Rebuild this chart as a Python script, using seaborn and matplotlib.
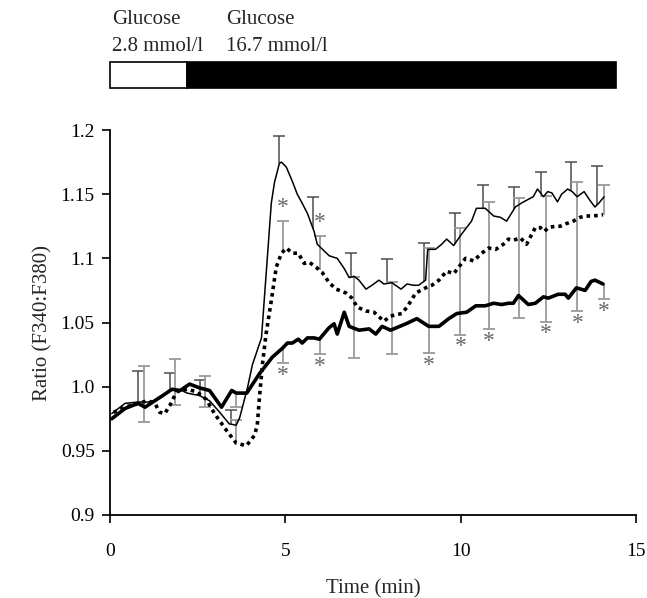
import matplotlib
matplotlib.use("Agg")
import matplotlib.pyplot as plt
import matplotlib.transforms as mtransforms
from matplotlib.patches import Rectangle
import numpy as np
import seaborn as sns

# thin solid line
thin_t = [0.05, 0.43, 0.80, 1.08, 1.28, 1.56, 1.80, 2.05, 2.20, 2.56, 2.84, 3.13,
          3.40, 3.60, 3.70, 3.92, 4.06, 4.32, 4.60, 4.69, 4.83, 4.89, 5.03, 5.20,
          5.34, 5.48, 5.63, 5.82, 5.91, 6.25, 6.48, 6.68, 6.82, 6.96, 7.10, 7.30,
          7.47, 7.67, 7.81, 8.04, 8.30, 8.47, 8.66, 8.80, 9.00, 9.06, 9.28, 9.46,
          9.60, 9.80, 10.03, 10.31, 10.45, 10.70, 10.94, 11.13, 11.31, 11.56, 11.73,
          11.93, 12.07, 12.19, 12.36, 12.48, 12.60, 12.76, 12.88, 13.05, 13.18,
          13.32, 13.52, 13.69, 13.83, 13.94, 14.09]
thin_y = [0.979, 0.987, 0.988, 0.988, 0.989, 0.994, 0.998, 0.997, 0.995, 0.993, 0.989, 0.980,
          0.971, 0.970, 0.976, 0.999, 1.017, 1.038, 1.143, 1.159, 1.174, 1.175, 1.171, 1.160,
          1.150, 1.143, 1.135, 1.121, 1.111, 1.102, 1.100, 1.092, 1.085, 1.086, 1.083, 1.076,
          1.079, 1.083, 1.080, 1.081, 1.076, 1.080, 1.079, 1.079, 1.083, 1.107, 1.107, 1.111,
          1.115, 1.110, 1.119, 1.129, 1.139, 1.139, 1.133, 1.132, 1.129, 1.140, 1.143,
          1.146, 1.148, 1.154, 1.148, 1.152, 1.151, 1.144, 1.150, 1.154, 1.152,
          1.148, 1.152, 1.145, 1.140, 1.143, 1.148]

# thick solid line
thick_t = [0.05, 0.43, 0.80, 1.00, 1.22, 1.50, 1.77, 2.00, 2.27, 2.56, 2.84, 3.18,
           3.47, 3.60, 3.90, 4.26, 4.63, 4.92, 5.06, 5.20, 5.37, 5.48, 5.63, 5.82,
           5.97, 6.25, 6.39, 6.48, 6.68, 6.82, 7.10, 7.39, 7.58, 7.76, 8.00, 8.44,
           8.75, 9.09, 9.38, 9.66, 9.89, 10.17, 10.43, 10.70, 10.94, 11.17, 11.36,
           11.50, 11.65, 11.93, 12.13, 12.36, 12.50, 12.78, 12.98, 13.07, 13.30,
           13.55, 13.72, 13.83, 14.06]
thick_y = [0.975, 0.983, 0.987, 0.984, 0.988, 0.993, 0.998, 0.997, 1.002, 0.999, 0.997, 0.984,
           0.997, 0.995, 0.995, 1.010, 1.023, 1.030, 1.034, 1.034, 1.037, 1.034, 1.038, 1.038,
           1.037, 1.046, 1.049, 1.041, 1.058, 1.047, 1.044, 1.045, 1.041, 1.047, 1.044, 1.049,
           1.053, 1.047, 1.047, 1.053, 1.057, 1.058, 1.063, 1.063, 1.065, 1.064, 1.065,
           1.065, 1.071, 1.064, 1.065, 1.070, 1.069, 1.072, 1.072, 1.069, 1.077,
           1.075, 1.082, 1.083, 1.080]

# dotted line
dot_t = [0.10, 0.43, 0.80, 1.08, 1.28, 1.42, 1.56, 1.70, 1.90, 2.20, 2.47, 2.75,
         2.98, 3.32, 3.60, 3.89, 4.12, 4.20, 4.26, 4.35, 4.45, 4.60, 4.74, 4.89,
         5.03, 5.20, 5.37, 5.54, 5.68, 5.88, 6.05, 6.25, 6.45, 6.73, 6.90, 7.05,
         7.30, 7.53, 7.81, 8.00, 8.32, 8.47, 8.72, 9.00, 9.18, 9.38, 9.60, 9.80,
         9.94, 10.14, 10.37, 10.60, 10.80, 11.00, 11.22, 11.36, 11.50, 11.70, 11.88,
         12.13, 12.27, 12.39, 12.50, 12.70, 12.84, 13.01, 13.21, 13.41, 13.58,
         13.78, 14.06]
dot_y = [0.980, 0.984, 0.987, 0.989, 0.987, 0.980, 0.979, 0.985, 0.996, 0.998, 0.996, 0.990,
         0.979, 0.966, 0.956, 0.954, 0.962, 0.970, 0.991, 1.018, 1.041, 1.067, 1.093, 1.104,
         1.108, 1.104, 1.104, 1.096, 1.097, 1.093, 1.089, 1.081, 1.076, 1.073, 1.069, 1.062,
         1.059, 1.058, 1.051, 1.055, 1.057, 1.062, 1.073, 1.077, 1.079, 1.083, 1.090, 1.088,
         1.093, 1.100, 1.098, 1.104, 1.108, 1.107, 1.111, 1.115, 1.114, 1.116, 1.111,
         1.124, 1.124, 1.121, 1.124, 1.125, 1.125, 1.127, 1.129, 1.132, 1.133,
         1.133, 1.134]

# error bars of the thin line (upwards)
thin_bar_t = [0.80, 1.70, 2.56, 3.44, 4.83, 5.80, 6.87, 7.90, 8.95, 9.83, 10.65,
              11.53, 12.29, 13.16, 13.89]
thin_bar_err = [0.024, 0.014, 0.012, 0.011, 0.021, 0.025, 0.019, 0.019, 0.030, 0.024,
                0.018, 0.017, 0.017, 0.023, 0.030]

# error bars of the dotted (upwards) and thick (downwards) lines
pair_bar_t = [0.97, 1.85, 2.70, 3.60, 4.93, 5.98, 6.96, 8.05, 9.09, 9.99, 10.80,
              11.67, 12.42, 13.33, 14.09]
dot_bar_err = [0.028, 0.028, 0.017, 0.018, 0.024, 0.027, 0.019, 0.026, 0.030, 0.029,
               0.036, 0.031, 0.027, 0.029, 0.023]
thick_bar_err = [0.012, 0.012, 0.014, 0.011, 0.012, 0.012, 0.023, 0.019, 0.021, 0.017,
                 0.019, 0.017, 0.019, 0.018, 0.012]
pair_joined = [True, True, True, False, False, False, True, True, True, True, True,
               True, True, True, False]
star_up = [False, False, False, False, True, True, False, False, False, False, False,
           False, False, False, False]
star_down = [False, False, False, False, True, True, False, False, True, True, True,
             False, True, True, True]

low_end = 2.2
high_end = 14.43

sns.set_style("ticks")
plt.rcParams["font.family"] = ["Liberation Serif", "DejaVu Serif"]
plt.rcParams["font.size"] = 14

fig = plt.figure(figsize=(6.47, 5.98), dpi=100)
ax = fig.add_axes([0.170, 0.1388, 0.813, 0.6438])

dark = "#4d4d4d"
grey = "#9a9a9a"

# error bars first, so the curves sit on top
for t, e in zip(thin_bar_t, thin_bar_err):
    y0 = np.interp(t, thin_t, thin_y)
    ax.vlines(t, y0, y0 + e, color=dark, linewidth=1.1, zorder=1)
    ax.plot([t], [y0 + e], marker="_", markersize=8, mew=1.1, color=dark, zorder=1)

for i, t in enumerate(pair_bar_t):
    yd = np.interp(t, dot_t, dot_y)
    yk = np.interp(t, thick_t, thick_y)
    top = yd + dot_bar_err[i]
    bot = yk - thick_bar_err[i]
    ax.vlines(t, yd, top, color=grey, linewidth=1.3, zorder=1)
    ax.vlines(t, bot, yk, color=grey, linewidth=1.3, zorder=1)
    if pair_joined[i]:
        ax.vlines(t, min(yd, yk), max(yd, yk), color=grey, linewidth=1.3, zorder=1)
    ax.plot([t, t], [top, bot], linestyle="none", marker="_", markersize=8,
            mew=1.3, color=grey, zorder=1)
    if star_up[i]:
        ax.annotate("*", (t, top), xytext=(0, 2), textcoords="offset points",
                    ha="center", va="bottom", fontsize=17, color="#666666")
    if star_down[i]:
        ax.annotate("*", (t, bot), xytext=(0, -1), textcoords="offset points",
                    ha="center", va="top", fontsize=17, color="#666666")

sns.lineplot(x=thin_t, y=thin_y, ax=ax, color="black", linewidth=1.1, sort=False,
             estimator=None, zorder=3)
sns.lineplot(x=dot_t, y=dot_y, ax=ax, color="black", linewidth=2.6, sort=False,
             estimator=None, linestyle=(0, (1, 1.1)), zorder=3)
sns.lineplot(x=thick_t, y=thick_y, ax=ax, color="black", linewidth=2.6, sort=False,
             estimator=None, zorder=4)

ax.set_xlim(0, 15)
ax.set_ylim(0.9, 1.2)
ax.set_xticks([0, 5, 10, 15])
ax.set_yticks([0.9, 0.95, 1.0, 1.05, 1.1, 1.15, 1.2])
ax.set_yticklabels(["0.9", "0.95", "1.0", "1.05", "1.1", "1.15", "1.2"])
ax.tick_params(direction="out", length=6, width=1.2, colors="black", labelsize=14)
ax.tick_params(axis="x", pad=14)
ax.tick_params(axis="y", pad=5)
ax.set_xlabel("Time (min)", fontsize=15, labelpad=14)
ax.set_ylabel("Ratio (F340:F380)", fontsize=15, labelpad=6)
sns.despine(ax=ax)
for s in ["left", "bottom"]:
    ax.spines[s].set_linewidth(1.3)
    ax.spines[s].set_color("black")

# glucose bar above the axes
trans = mtransforms.blended_transform_factory(ax.transData, ax.transAxes)
ax.add_patch(Rectangle((0, 1.109), low_end, 0.068, transform=trans, clip_on=False,
                       facecolor="white", edgecolor="black", linewidth=1.2))
ax.add_patch(Rectangle((low_end, 1.109), high_end - low_end, 0.068, transform=trans,
                       clip_on=False, facecolor="black", edgecolor="black",
                       linewidth=1.2))
ax.text(0.05, 1.252, "Glucose\n2.8 mmol/l", transform=trans, ha="left", va="center",
        fontsize=15, linespacing=1.55)
ax.text(3.3, 1.252, "Glucose\n16.7 mmol/l", transform=trans, ha="left", va="center",
        fontsize=15, linespacing=1.55)

fig.savefig("out.png", dpi=100)
